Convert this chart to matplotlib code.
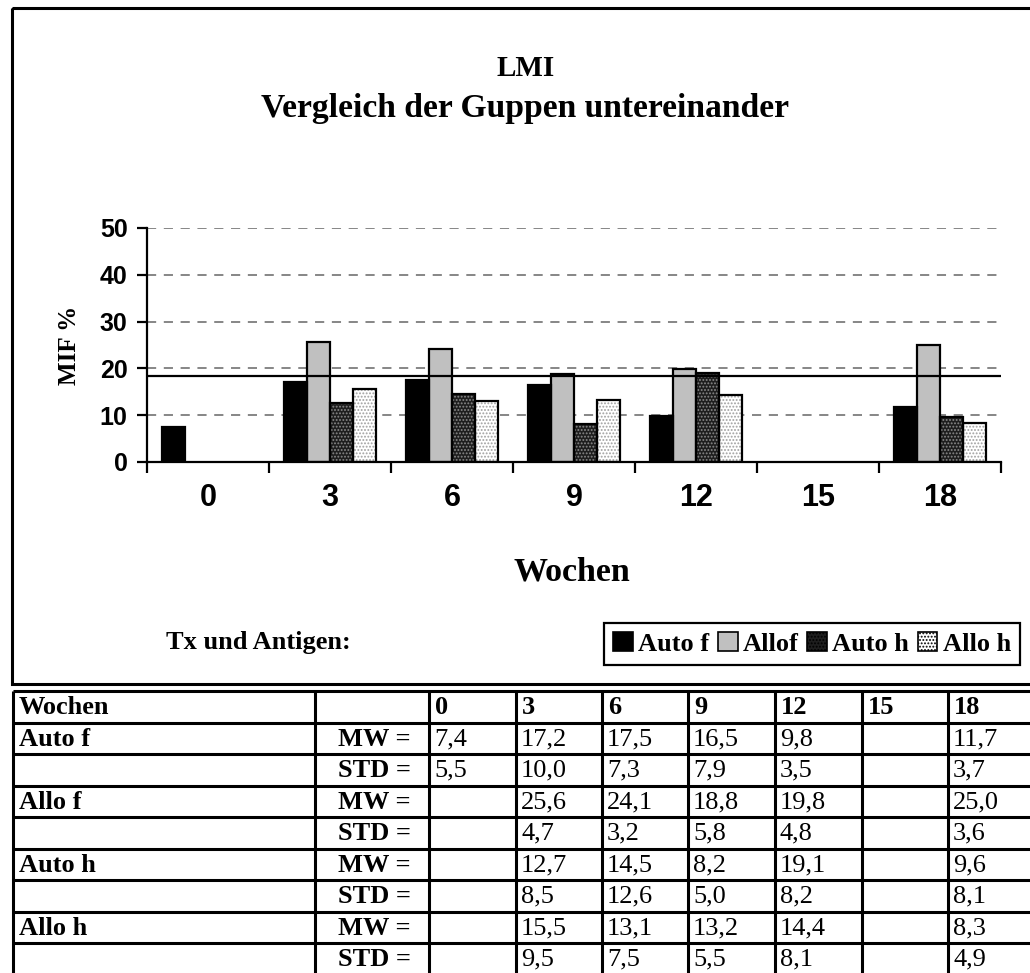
import numpy as np
import matplotlib
matplotlib.use('Agg')
import matplotlib.pyplot as plt
from matplotlib.patches import Rectangle, Patch

# ---------------- data ----------------
weeks = ['0', '3', '6', '9', '12', '15', '18']
series_names = ['Auto f', 'Allof', 'Auto h', 'Allo h']
table_names = ['Auto f', 'Allo f', 'Auto h', 'Allo h']
auto_f_mw = [7.4, 17.2, 17.5, 16.5, 9.8, None, 11.7]
auto_f_std = [5.5, 10.0, 7.3, 7.9, 3.5, None, 3.7]
allo_f_mw = [None, 25.6, 24.1, 18.8, 19.8, None, 25.0]
allo_f_std = [None, 4.7, 3.2, 5.8, 4.8, None, 3.6]
auto_h_mw = [None, 12.7, 14.5, 8.2, 19.1, None, 9.6]
auto_h_std = [None, 8.5, 12.6, 5.0, 8.2, None, 8.1]
allo_h_mw = [None, 15.5, 13.1, 13.2, 14.4, None, 8.3]
allo_h_std = [None, 9.5, 7.5, 5.5, 8.1, None, 4.9]
reference_line = 18.4
y_ticks = [0, 10, 20, 30, 40, 50]

SERIF = 'Liberation Serif'
SANS = 'Liberation Sans'
plt.rcParams['hatch.linewidth'] = 0.9

W, H = 1030, 973
fig = plt.figure(figsize=(W / 100, H / 100), dpi=100)
fig.patch.set_facecolor('white')

# overlay axes in pixel coordinates for frame and table
ov = fig.add_axes([0, 0, 1, 1])
ov.set_xlim(0, W)
ov.set_ylim(H, 0)
ov.axis('off')
ov.patch.set_visible(False)

# chart frame
ov.add_patch(Rectangle((12, 8), 1040 - 12, 684 - 8, fill=False, lw=2.2,
                       edgecolor='black'))

# ---------------- chart ----------------
ax = fig.add_axes([147 / W, 1 - 462 / H, (1001 - 147) / W, (462 - 228) / H])
ax.set_xlim(-0.5, 6.5)
ax.set_ylim(0, 50)
ax.patch.set_visible(False)

styles = [
    dict(face='black', hatch=None, hcol='black'),
    dict(face='#c0c0c0', hatch=None, hcol='#c0c0c0'),
    dict(face='#1e1e1e', hatch='.....', hcol='#8a8a8a'),
    dict(face='white', hatch='.....', hcol='#a0a0a0'),
]
mw_series = [auto_f_mw, allo_f_mw, auto_h_mw, allo_h_mw]
bw = 0.187
xs = np.arange(len(weeks))
for i, (vals, st) in enumerate(zip(mw_series, styles)):
    idx = [k for k, v in enumerate(vals) if v is not None]
    hx = xs[idx] + (i - 1.5) * bw
    hv = [vals[k] for k in idx]
    ax.bar(hx, hv, width=bw, color=st['face'], hatch=st['hatch'],
           edgecolor=st['hcol'], linewidth=0, zorder=2)
    ax.bar(hx, hv, width=bw, fill=False, edgecolor='black', linewidth=1.6,
           zorder=3)

for y in y_ticks[1:]:
    ax.axhline(y, color='#666666', lw=1.1, dashes=(6, 5), zorder=1)
ax.axhline(reference_line, color='black', lw=1.6, zorder=4)

for s in ['top', 'right']:
    ax.spines[s].set_visible(False)
for s in ['left', 'bottom']:
    ax.spines[s].set_linewidth(1.6)
ax.spines['bottom'].set_zorder(5)

ax.set_yticks(y_ticks)
ax.set_yticklabels([str(v) for v in y_ticks], fontfamily=SANS,
                   fontweight='bold', fontsize=18)
ax.tick_params(axis='y', direction='out', length=7, width=1.6, pad=7)
ax.set_xticks(xs)
ax.set_xticklabels(weeks, fontfamily=SANS, fontweight='bold', fontsize=22)
ax.tick_params(axis='x', which='major', length=0, pad=15)
ax.set_xticks(np.arange(-0.5, 7, 1), minor=True)
ax.tick_params(axis='x', which='minor', direction='out', length=8, width=1.6)

# texts
fig.text(0.51, 1 - 68 / H, 'LMI', ha='center', va='center',
         fontfamily=SERIF, fontweight='bold', fontsize=21)
fig.text(0.51, 1 - 108 / H, 'Vergleich der Guppen untereinander',
         ha='center', va='center', fontfamily=SERIF, fontweight='bold',
         fontsize=24.2)
fig.text(572 / W, 1 - 572 / H, 'Wochen', ha='center', va='center',
         fontfamily=SERIF, fontweight='bold', fontsize=24.5)
fig.text(69 / W, 1 - 345 / H, 'MIF %', ha='center', va='center',
         rotation=90, fontfamily=SERIF, fontweight='bold', fontsize=18)
fig.text(166 / W, 1 - 643 / H, 'Tx und Antigen:', ha='left', va='center',
         fontfamily=SERIF, fontweight='bold', fontsize=19)

handles = [Patch(facecolor=st['face'], edgecolor='black', hatch=st['hatch'],
                 linewidth=1.2) for st in styles]
leg = fig.legend(handles, series_names, loc='center',
                 bbox_to_anchor=(812 / W, 1 - 644 / H), ncol=4,
                 frameon=True, fancybox=False, framealpha=1,
                 edgecolor='black', handlelength=0.75, handleheight=0.75,
                 handletextpad=0.2, columnspacing=0.32, borderpad=0.35,
                 borderaxespad=0,
                 prop=dict(family=SERIF, weight='bold', size=19))
leg.get_frame().set_linewidth(1.6)

# ---------------- table ----------------
col_x = [13, 315, 429, 516, 602, 688, 775, 862, 948, 1040]
row_h = 31.5
row_top = 691
n_rows = 9
row_y = [row_top + row_h * k for k in range(n_rows + 1)]
for x in col_x:
    ov.plot([x, x], [row_y[0], row_y[-1]], color='black', lw=2.2,
            solid_capstyle='butt')
for y in row_y:
    ov.plot([col_x[0], col_x[-1]], [y, y], color='black', lw=2.2,
            solid_capstyle='butt')

TS = 19


def fmt(v):
    return '' if v is None else f'{v:.1f}'.replace('.', ',')


def cy(r):
    return row_y[r] + row_h / 2 + 1


ov.text(col_x[0] + 6, cy(0), 'Wochen', ha='left', va='center',
        fontfamily=SERIF, fontweight='bold', fontsize=TS)
for j, w in enumerate(weeks):
    ov.text(col_x[2 + j] + 6, cy(0), w, ha='left', va='center',
            fontfamily=SERIF, fontweight='bold', fontsize=TS)

std_series = [auto_f_std, allo_f_std, auto_h_std, allo_h_std]
for i, name in enumerate(table_names):
    r_mw = 1 + 2 * i
    r_sd = r_mw + 1
    ov.text(col_x[0] + 6, cy(r_mw), name, ha='left', va='center',
            fontfamily=SERIF, fontweight='bold', fontsize=TS)
    ov.text(col_x[2] - 18, cy(r_mw), 'MW =', ha='right', va='center',
            fontfamily=SERIF, fontweight='bold', fontsize=TS)
    ov.text(col_x[2] - 18, cy(r_sd), 'STD =', ha='right', va='center',
            fontfamily=SERIF, fontweight='bold', fontsize=TS)
    for j in range(len(weeks)):
        ov.text(col_x[2 + j] + 5, cy(r_mw), fmt(mw_series[i][j]), ha='left',
                va='center', fontfamily=SERIF, fontsize=TS)
        ov.text(col_x[2 + j] + 5, cy(r_sd), fmt(std_series[i][j]), ha='left',
                va='center', fontfamily=SERIF, fontsize=TS)

fig.savefig('out.png', dpi=100, facecolor='white')
